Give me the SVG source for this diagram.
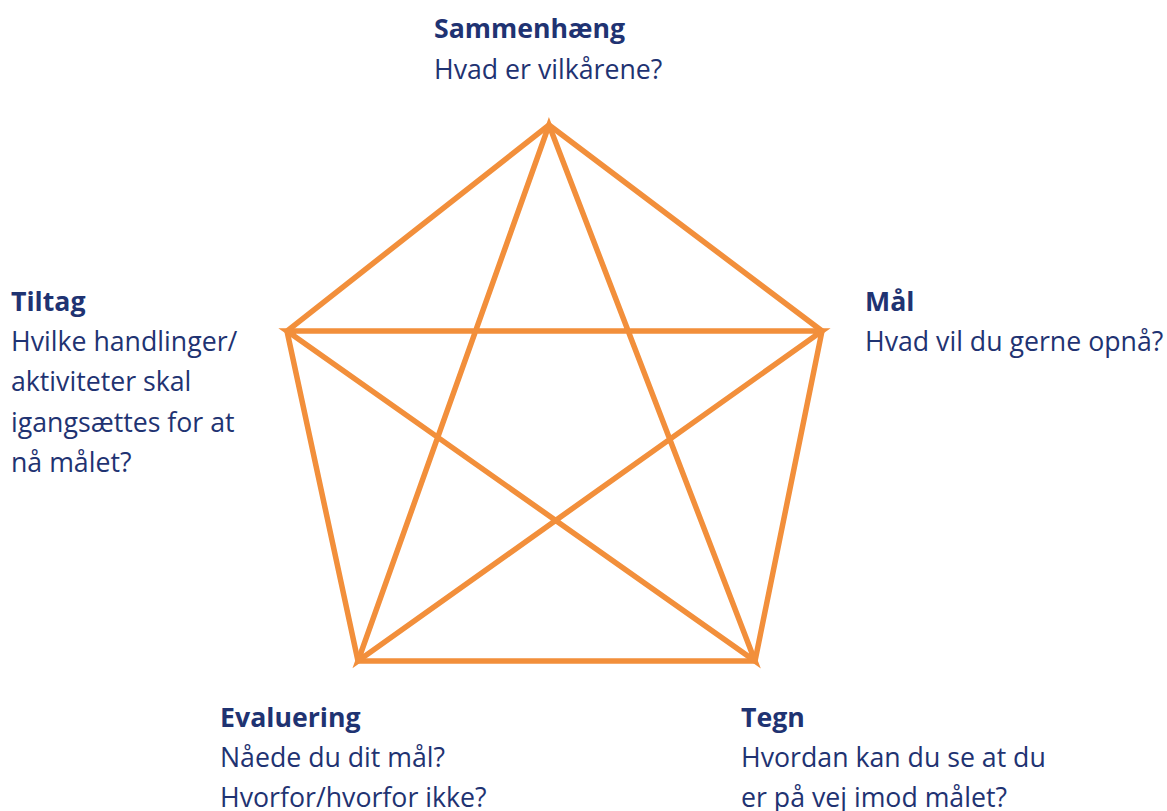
<svg xmlns="http://www.w3.org/2000/svg" width="1167" height="811" viewBox="0 0 1167 811">
<style>
.t{font-family:"Open Sans","Noto Sans",sans-serif;font-size:26.7px;fill:#1F3372}
.b{font-weight:700}
.ln{fill:none;stroke:#F28F3B;stroke-width:5.5;stroke-linejoin:miter;stroke-miterlimit:20}
</style>
<rect width="1167" height="811" fill="#fff"/>
<g id="connectors">
<polygon class="ln" points="549,125 822,331 755,661 358,661 287,331"/>
<polygon class="ln" points="549,125 755,661 287,331 822,331 358,661"/>
</g>
<g id="sammenhaeng">
<text class="t b" x="434" y="38">Sammenhæng</text>
<text class="t" x="434" y="79">Hvad er vilkårene?</text>
</g>
<g id="maal">
<text class="t b" x="865" y="311">Mål</text>
<text class="t" x="865" y="351">Hvad vil du gerne opnå?</text>
</g>
<g id="tiltag">
<text class="t b" x="11" y="311">Tiltag</text>
<text class="t" x="11" y="351">Hvilke handlinger/</text>
<text class="t" x="11" y="391">aktiviteter skal</text>
<text class="t" x="11" y="432">igangsættes for at</text>
<text class="t" x="11" y="472">nå målet?</text>
</g>
<g id="evaluering">
<text class="t b" x="220" y="727">Evaluering</text>
<text class="t" x="220" y="767">Nåede du dit mål?</text>
<text class="t" x="220" y="807">Hvorfor/hvorfor ikke?</text>
</g>
<g id="tegn">
<text class="t b" x="741" y="727">Tegn</text>
<text class="t" x="741" y="767">Hvordan kan du se at du</text>
<text class="t" x="741" y="807">er på vej imod målet?</text>
</g>
</svg>
